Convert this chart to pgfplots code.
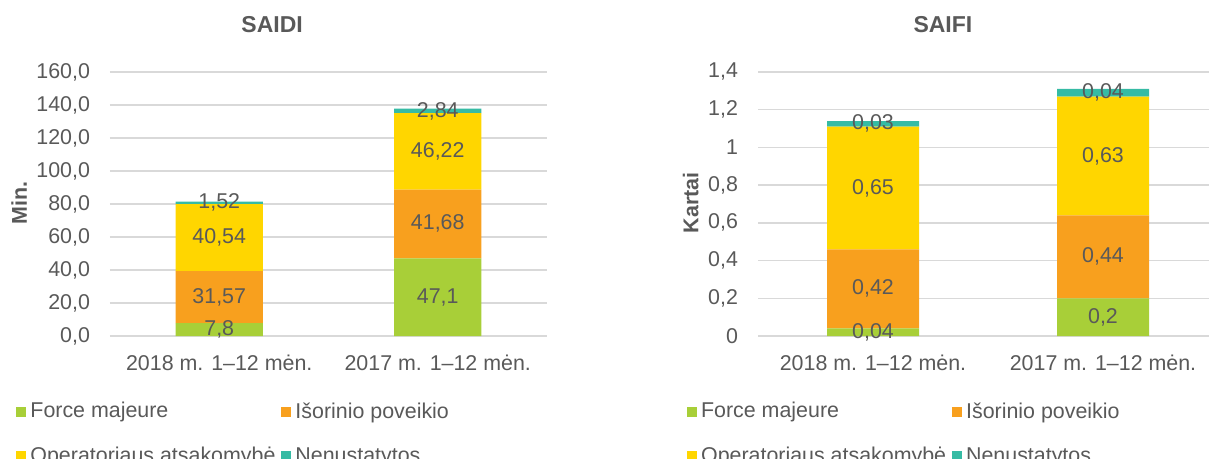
\documentclass[border=0pt]{standalone}
\usepackage{pgfplots}
\pgfplotsset{compat=1.18}
\usepackage{pgfplotstable}
\usepackage{fontspec}
\setmainfont{Liberation Sans}
\definecolor{cgreen}{HTML}{A8CF38}
\definecolor{corange}{HTML}{F8A01E}
\definecolor{cyellow}{HTML}{FFD600}
\definecolor{cteal}{HTML}{36BBA4}
\definecolor{ctext}{HTML}{595959}
\definecolor{cgrid}{HTML}{D9D9D9}

\pgfplotstableread{
x fm isor oper nen
0 7.8  31.57 40.54 1.52
1 47.1 41.68 46.22 2.84
}\saidi
\pgfplotstableread{
x fm isor oper nen
0 0.04 0.42 0.65 0.03
1 0.2  0.44 0.63 0.04
}\saifi

\newcommand{\tf}{\fontsize{10.7}{12.8}\selectfont}

\pgfplotsset{
  every node near coord/.append style={/pgf/number format/fixed,
      /pgf/number format/precision=2, /pgf/number format/use comma,
      font=\tf, text=ctext, anchor=center},
  mystyle/.style={
    scale only axis,
    ybar stacked,
    bar width=0.4,
    xmin=-0.5, xmax=1.5,
    xtick={0,1},
    xticklabels={2018 m. 1--12 mėn., 2017 m. 1--12 mėn.},
    ymin=0,
    ymajorgrids,
    grid style={cgrid, line width=0.75pt},
    axis line style={draw=none},
    major tick length=0pt,
    tick label style={font=\tf, text=ctext},
    xticklabel style={yshift=-6pt},
    yticklabel style={xshift=-6.5pt},
    /pgf/number format/assume math mode=true,
    ylabel style={font=\tf\bfseries, text=ctext, rotate=0},
    title style={font=\fontsize{11.5}{13.5}\selectfont\bfseries, text=ctext, anchor=center},
    legend style={draw=none, font=\tf, text=ctext, anchor=north west,
      /tikz/every even column/.append style={column sep=1pt},
      row sep=9pt, inner sep=0pt},
    legend columns=2,
    legend cell align=left,
    legend image code/.code={\fill[##1] (0pt,-2.5pt) rectangle (5pt,2.5pt);},
    point meta=rawy,
    nodes near coords,
    every axis plot/.append style={draw=none},
  }
}

\begin{document}
\begin{tikzpicture}
\begin{axis}[mystyle,
  at={(55pt,-168pt)}, anchor=south west,
  width=218.5pt, height=132pt,
  ymax=160, ytick={0,20,...,160},
  yticklabel style={/pgf/number format/fixed, /pgf/number format/fixed zerofill,
    /pgf/number format/precision=1, /pgf/number format/use comma},
  title={SAIDI},
  title style={at={(0.371,1.133)}},
  ylabel={Min.},
  ylabel style={at={(-0.208,0.504)}, anchor=center},
  legend style={at={(-0.215,-0.235)}},
]
\addplot[fill=cgreen] table[x=x,y=fm] {\saidi};
\addplot[fill=corange] table[x=x,y=isor] {\saidi};
\addplot[fill=cyellow] table[x=x,y=oper] {\saidi};
\addplot[fill=cteal] table[x=x,y=nen] {\saidi};
\legend{Force majeure, Išorinio poveikio, Operatoriaus atsakomybė, Nenustatytos}
\end{axis}

\begin{axis}[mystyle,
  at={(379pt,-168pt)}, anchor=south west,
  width=230pt, height=132pt,
  ymax=1.4, ytick={0,0.2,...,1.4},
  yticklabel style={/pgf/number format/fixed, /pgf/number format/precision=1,
    /pgf/number format/use comma},
  title={SAIFI},
  title style={at={(0.402,1.133)}},
  ylabel={Kartai},
  ylabel style={at={(-0.146,0.504)}, anchor=center},
  legend style={at={(-0.155,-0.235)}},
]
\addplot[fill=cgreen] table[x=x,y=fm] {\saifi};
\addplot[fill=corange] table[x=x,y=isor] {\saifi};
\addplot[fill=cyellow] table[x=x,y=oper] {\saifi};
\addplot[fill=cteal] table[x=x,y=nen] {\saifi};
\legend{Force majeure, Išorinio poveikio, Operatoriaus atsakomybė, Nenustatytos}
\end{axis}
\pgfresetboundingbox
\path[use as bounding box] (0pt,0pt) rectangle (604.5pt,-229.5pt);
\end{tikzpicture}
\end{document}
